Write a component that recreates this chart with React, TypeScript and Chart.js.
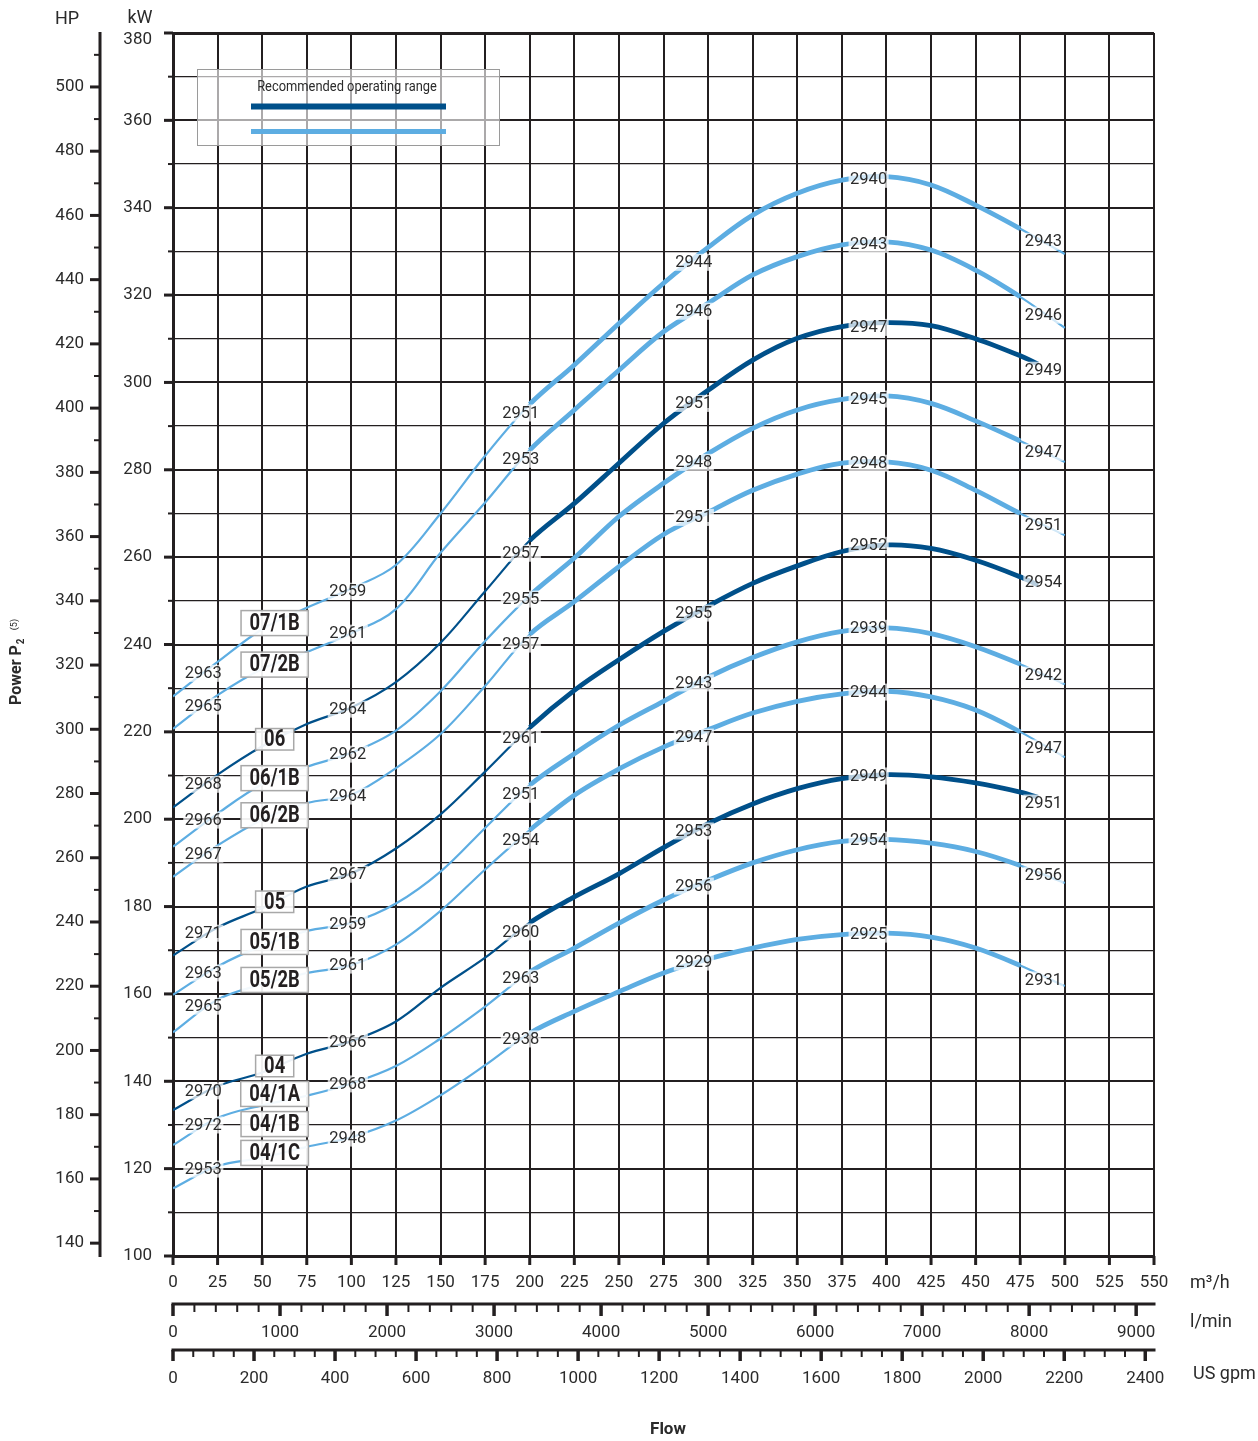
import { useEffect, useRef } from 'react';
import { Chart, registerables } from 'chart.js';

Chart.register(...registerables);

const W = 1258;
const H = 1441;
const DARK = '#00508A';
const LIGHT = '#5DADE2';
const GRID = '#231F20';
const TEXT = '#2B2B2B';
const FONT = 'Roboto, "Liberation Sans", sans-serif';

// flow (m3/h) sampling of the curves
const flowLight = [0, 25, 50, 75, 100, 125, 150, 175, 200, 225, 250, 275, 300, 325, 350, 375, 400, 425, 450, 475, 500];
const flowDark = [0, 25, 50, 75, 100, 125, 150, 175, 200, 225, 250, 275, 300, 325, 350, 375, 400, 425, 450, 475, 485];

// power P2 (kW)
const kw07_1B = [228.1, 236.0, 243.5, 248.4, 252.8, 258.2, 270.0, 283.2, 295.0, 304.0, 313.5, 322.7, 330.9, 338.3, 343.3, 346.3, 347.1, 345.2, 340.6, 335.2, 329.4];
const kw07_2B = [220.7, 228.4, 234.4, 238.3, 242.6, 248.1, 261.0, 272.5, 284.5, 293.7, 302.8, 311.6, 318.1, 324.6, 328.8, 331.5, 332.2, 330.3, 325.7, 319.6, 312.5];
const kw06 = [202.7, 210.2, 216.7, 221.8, 225.6, 231.4, 240.4, 252.2, 263.8, 272.3, 281.5, 290.6, 298.2, 305.1, 310.1, 312.8, 313.7, 313.0, 310.0, 306.1, 304.2];
const kw06_1B = [193.7, 201.3, 208.0, 212.0, 215.2, 220.3, 229.3, 240.8, 251.2, 259.8, 269.3, 276.9, 283.7, 289.5, 293.7, 296.1, 296.9, 295.2, 291.2, 286.6, 281.8];
const kw06_2B = [186.8, 194.0, 199.9, 203.7, 205.6, 211.7, 219.5, 230.5, 242.3, 249.8, 257.8, 265.2, 270.3, 275.3, 279.0, 281.5, 281.8, 279.9, 275.3, 270.0, 265.0];
const kw05 = [168.8, 175.2, 179.6, 184.6, 187.6, 193.3, 201.1, 210.9, 221.0, 229.5, 236.5, 243.0, 248.8, 254.0, 258.0, 261.3, 262.8, 262.0, 259.3, 255.5, 253.6];
const kw05_1B = [159.8, 166.3, 171.0, 174.4, 176.3, 180.7, 188.0, 198.0, 207.8, 215.0, 221.5, 227.0, 232.5, 237.0, 240.6, 243.0, 243.8, 242.5, 239.5, 235.5, 230.9];
const kw05_2B = [151.2, 158.7, 162.2, 164.8, 166.6, 171.3, 179.0, 188.5, 197.5, 205.5, 211.5, 216.5, 220.5, 224.3, 227.0, 228.7, 229.3, 228.0, 225.0, 220.0, 214.2];
const kw04 = [133.4, 138.9, 142.0, 146.3, 149.2, 153.7, 161.4, 168.3, 176.3, 182.2, 187.5, 193.5, 199.0, 203.5, 207.0, 209.3, 210.2, 209.7, 208.3, 206.2, 205.0];
const kw04_1A = [125.4, 131.6, 134.5, 136.7, 139.5, 143.5, 149.8, 157.1, 165.0, 170.5, 176.2, 181.5, 186.0, 190.0, 193.0, 194.9, 195.4, 194.5, 192.6, 189.4, 185.4];
const kw04_1C = [115.5, 120.6, 122.5, 125.0, 127.2, 131.0, 136.8, 143.7, 151.0, 156.0, 160.5, 164.8, 168.0, 170.5, 172.5, 173.6, 173.9, 173.0, 170.5, 166.5, 161.8];

// curve tags (flow positions and read power values)
const tagFlow = [17, 98, 195, 292, 390, 488];
const tags07_1B = ['2963', '2959', '2951', '2944', '2940', '2943'];
const tagKw07_1B = [233.4, 252.2, 293.0, 327.5, 346.5, 332.3];
const tags07_2B = ['2965', '2961', '2953', '2946', '2943', '2946'];
const tagKw07_2B = [225.9, 242.6, 282.4, 316.3, 331.6, 315.4];
const tags06 = ['2968', '2964', '2957', '2951', '2947', '2949'];
const tagKw06 = [208.0, 225.2, 260.9, 295.2, 312.6, 302.8];
const tags06_1B = ['2966', '2962', '2955', '2948', '2945', '2947'];
const tagKw06_1B = [199.8, 214.9, 250.4, 281.7, 296.2, 284.0];
const tags06_2B = ['2967', '2964', '2957', '2951', '2948', '2951'];
const tagKw06_2B = [192.0, 205.3, 240.1, 269.1, 281.5, 267.3];
const tags05 = ['2971', '2967', '2961', '2955', '2952', '2954'];
const tagKw05 = [173.9, 187.4, 218.6, 247.2, 262.7, 254.3];
const tags05_1B = ['2963', '2959', '2951', '2943', '2939', '2942'];
const tagKw05_1B = [164.8, 176.0, 205.7, 231.2, 243.7, 233.0];
const tags05_2B = ['2965', '2961', '2954', '2947', '2944', '2947'];
const tagKw05_2B = [157.2, 166.6, 195.2, 218.8, 229.1, 216.3];
const tags04 = ['2970', '2966', '2960', '2953', '2949', '2951'];
const tagKw04 = [137.8, 149.0, 174.2, 197.3, 209.9, 203.7];
const tags04_1A = ['2972', '2968', '2963', '2956', '2954', '2956'];
const tagKw04_1A = [130.0, 139.4, 163.6, 184.7, 195.2, 187.2];
const tags04_1C = ['2953', '2948', '2938', '2929', '2925', '2931'];
const tagKw04_1C = [119.9, 127.0, 149.7, 167.3, 173.7, 163.2];

// model name boxes
const modelNames = ['07/1B', '07/2B', '06', '06/1B', '06/2B', '05', '05/1B', '05/2B', '04', '04/1A', '04/1B', '04/1C'];
const modelKw = [244.9, 235.4, 218.3, 209.4, 200.9, 181.1, 171.9, 163.2, 143.5, 137.1, 130.2, 123.6];
const modelFlow = 57;

// recommended operating range (flow)
const rangeFrom = 200;
const rangeToLight = 475;
const rangeToDark = 485;

// axes
const flowTicks = [0, 25, 50, 75, 100, 125, 150, 175, 200, 225, 250, 275, 300, 325, 350, 375, 400, 425, 450, 475, 500, 525, 550];
const kwLabels = [100, 120, 140, 160, 180, 200, 220, 240, 260, 280, 300, 320, 340, 360, 380];
const hpLabels = [140, 160, 180, 200, 220, 240, 260, 280, 300, 320, 340, 360, 380, 400, 420, 440, 460, 480, 500];
const lminLabels = [0, 1000, 2000, 3000, 4000, 5000, 6000, 7000, 8000, 9000];
const gpmLabels = [0, 200, 400, 600, 800, 1000, 1200, 1400, 1600, 1800, 2000, 2200, 2400];
const KW_TO_HP = 1.36;
const M3H_TO_LMIN = 1000 / 60;
const M3H_TO_GPM = 4.402868;

const steps = (from: number, to: number, step: number) => {
  const out: number[] = [];
  for (let v = from; v <= to + 1e-9; v += step) out.push(Math.round(v * 1000) / 1000);
  return out;
};
const kwTicks = steps(100, 380, 10);
const hpTicks = steps(140, 510, 10);
const lminTicks = steps(0, 9000, 200);
const gpmTicks = steps(0, 2400, 50);

const curves = [
  { model: '07/1B', flow: flowLight, kw: kw07_1B, dark: false, tags: tags07_1B, tagKw: tagKw07_1B },
  { model: '07/2B', flow: flowLight, kw: kw07_2B, dark: false, tags: tags07_2B, tagKw: tagKw07_2B },
  { model: '06', flow: flowDark, kw: kw06, dark: true, tags: tags06, tagKw: tagKw06 },
  { model: '06/1B', flow: flowLight, kw: kw06_1B, dark: false, tags: tags06_1B, tagKw: tagKw06_1B },
  { model: '06/2B', flow: flowLight, kw: kw06_2B, dark: false, tags: tags06_2B, tagKw: tagKw06_2B },
  { model: '05', flow: flowDark, kw: kw05, dark: true, tags: tags05, tagKw: tagKw05 },
  { model: '05/1B', flow: flowLight, kw: kw05_1B, dark: false, tags: tags05_1B, tagKw: tagKw05_1B },
  { model: '05/2B', flow: flowLight, kw: kw05_2B, dark: false, tags: tags05_2B, tagKw: tagKw05_2B },
  { model: '04', flow: flowDark, kw: kw04, dark: true, tags: tags04, tagKw: tagKw04 },
  { model: '04/1A', flow: flowLight, kw: kw04_1A, dark: false, tags: tags04_1A, tagKw: tagKw04_1A },
  { model: '04/1C', flow: flowLight, kw: kw04_1C, dark: false, tags: tags04_1C, tagKw: tagKw04_1C },
];

const THIN = 2.2;
const THICK = 4.8;

const line = (ctx: CanvasRenderingContext2D, x1: number, y1: number, x2: number, y2: number, w: number, color = GRID) => {
  ctx.beginPath();
  ctx.strokeStyle = color;
  ctx.lineWidth = w;
  ctx.moveTo(x1, y1);
  ctx.lineTo(x2, y2);
  ctx.stroke();
};

const overlay = {
  id: 'overlay',
  afterDatasetsDraw(chart: any) {
    const ctx: CanvasRenderingContext2D = chart.ctx;
    const { x, y } = chart.scales;
    const ca = chart.chartArea;
    ctx.save();

    // curve tags
    ctx.font = `16.5px ${FONT}`;
    ctx.textAlign = 'center';
    ctx.textBaseline = 'middle';
    curves.forEach((c) => {
      c.tags.forEach((t, j) => {
        const px = x.getPixelForValue(tagFlow[j]);
        const py = y.getPixelForValue(c.tagKw[j]);
        const w = ctx.measureText(t).width;
        ctx.fillStyle = 'rgba(255,255,255,0.72)';
        ctx.fillRect(px - w / 2 - 1.5, py - 8.5, w + 3, 17);
        ctx.fillStyle = TEXT;
        ctx.fillText(t, px, py + 0.5);
      });
    });

    // model boxes (condensed bold text)
    const SQ = 0.8;
    ctx.font = `bold 23px ${FONT}`;
    modelNames.forEach((name, k) => {
      const px = x.getPixelForValue(modelFlow);
      const py = y.getPixelForValue(modelKw[k]);
      const w = ctx.measureText(name).width * SQ;
      const bw = w + 17;
      const bh = name.length > 2 ? 25 : 21.5;
      ctx.fillStyle = 'rgba(255,255,255,0.93)';
      ctx.fillRect(px - bw / 2, py - bh / 2, bw, bh);
      ctx.strokeStyle = '#A8A8A8';
      ctx.lineWidth = 1.5;
      ctx.strokeRect(px - bw / 2, py - bh / 2, bw, bh);
      ctx.fillStyle = '#231F20';
      ctx.save();
      ctx.translate(px, py + 1);
      ctx.scale(SQ, 1);
      ctx.fillText(name, 0, 0);
      ctx.restore();
    });

    // legend box
    const lx = ca.left + 24;
    const ly = ca.top + 36;
    ctx.fillStyle = 'rgba(255,255,255,0.62)';
    ctx.fillRect(lx, ly, 302, 76);
    ctx.strokeStyle = '#9A9A9A';
    ctx.lineWidth = 1;
    ctx.strokeRect(lx + 0.5, ly + 0.5, 302, 76);
    ctx.fillStyle = TEXT;
    ctx.font = `14px ${FONT}`;
    ctx.save();
    ctx.translate(lx + 150, ly + 18);
    ctx.scale(0.92, 1);
    ctx.fillText('Recommended operating range', 0, 0);
    ctx.restore();
    line(ctx, lx + 54, ly + 37.5, lx + 249, ly + 37.5, 6, DARK);
    line(ctx, lx + 54, ly + 62.5, lx + 249, ly + 62.5, 5, LIGHT);
    ctx.restore();
  },
  afterDraw(chart: any) {
    const ctx: CanvasRenderingContext2D = chart.ctx;
    const { x, y, hp, lmin, gpm } = chart.scales;
    const ca = chart.chartArea;
    ctx.save();
    ctx.lineCap = 'butt';

    // kW ticks
    kwTicks.forEach((v) => {
      const py = y.getPixelForValue(v);
      const major = v % 20 === 0;
      line(ctx, ca.left - (major ? 9 : 5), py, ca.left, py, major ? 3 : 2);
    });
    // top kW label sits just below its tick
    ctx.fillStyle = TEXT;
    ctx.font = `17px ${FONT}`;
    ctx.textAlign = 'right';
    ctx.textBaseline = 'middle';
    ctx.fillText(String(y.max), ca.left - 21, y.getPixelForValue(y.max) + 7);

    // m3/h ticks
    flowTicks.forEach((v) => {
      const px = x.getPixelForValue(v);
      line(ctx, px, ca.bottom, px, ca.bottom + 9, 3);
    });
    // HP axis
    const hx = hp.right;
    line(ctx, hx, ca.top - 1, hx, ca.bottom + 1, 3);
    hpTicks.forEach((v) => {
      const py = hp.getPixelForValue(v);
      const major = v % 20 === 0;
      line(ctx, hx - (major ? 10 : 6), py, hx, py, major ? 3 : 2);
    });
    // l/min axis
    const ly = lmin.top;
    line(ctx, ca.left - 1.5, ly, ca.right + 1.5, ly, 3);
    lminTicks.forEach((v) => {
      const px = lmin.getPixelForValue(v);
      const major = v % 1000 === 0;
      line(ctx, px, ly, px, ly + (major ? 12 : 8), major ? 3.5 : 2);
    });
    // US gpm axis
    const gy = gpm.top;
    line(ctx, ca.left - 1.5, gy, ca.right + 1.5, gy, 3);
    gpmTicks.forEach((v) => {
      const px = gpm.getPixelForValue(v);
      const major = v % 200 === 0;
      line(ctx, px, gy, px, gy + (major ? 11 : 7), major ? 3.5 : 2);
    });

    // headers and units
    ctx.fillStyle = TEXT;
    ctx.textBaseline = 'middle';
    ctx.textAlign = 'center';
    ctx.font = `18px ${FONT}`;
    ctx.fillText('HP', 67, 19);
    ctx.fillText('kW', 140, 18);
    ctx.textAlign = 'left';
    ctx.fillText('m³/h', 1190, 1283);
    ctx.fillText('l/min', 1190, 1322);
    ctx.fillText('US gpm', 1193, 1374);
    ctx.textAlign = 'center';
    ctx.font = `bold 17px ${FONT}`;
    ctx.fillText('Flow', 668, 1430);

    // vertical title
    ctx.save();
    ctx.translate(17, 705);
    ctx.rotate(-Math.PI / 2);
    ctx.textAlign = 'left';
    ctx.font = `bold 16px ${FONT}`;
    ctx.fillText('Power P', 0, 0);
    const tw = ctx.measureText('Power P').width;
    ctx.font = `bold 10px ${FONT}`;
    ctx.fillText('2', tw + 1, 4);
    ctx.font = `9px ${FONT}`;
    ctx.fillText('(5)', tw + 15, -2);
    ctx.restore();

    ctx.restore();
  },
};

export default function App() {
  const ref = useRef<HTMLCanvasElement>(null);
  useEffect(() => {
    const canvas = ref.current;
    if (!canvas) return;
    const datasets = curves.map((c) => {
      const end = c.dark ? rangeToDark : rangeToLight;
      return {
        label: c.model,
        data: c.flow.map((q, i) => ({ x: q, y: c.kw[i] })),
        borderColor: c.dark ? DARK : LIGHT,
        borderWidth: THIN,
        pointRadius: 0,
        fill: false,
        tension: 0.35,
        segment: {
          borderWidth: (s: any) => (s.p0.parsed.x >= rangeFrom && s.p1.parsed.x <= end ? THICK : THIN),
        },
        xAxisID: 'x',
        yAxisID: 'y',
      };
    });
    const tickFont = { family: FONT, size: 17 };
    const chart = new Chart(canvas, {
      type: 'line',
      data: { datasets },
      options: {
        responsive: false,
        animation: false,
        devicePixelRatio: 1,
        layout: { autoPadding: false, padding: { left: 0, top: 33, right: 104, bottom: 0 } },
        plugins: { legend: { display: false }, tooltip: { enabled: false }, title: { display: false } },
        scales: {
          x: {
            type: 'linear', axis: 'x', position: 'bottom', weight: 0, min: 0, max: 550,
            afterBuildTicks: (s: any) => { s.ticks = flowTicks.map((v) => ({ value: v })); },
            afterFit: (s: any) => { s.height = 48; },
            ticks: { autoSkip: false, maxRotation: 0, font: tickFont, color: TEXT, padding: 17 },
            grid: { color: GRID, lineWidth: 2, drawTicks: false },
            border: { display: true, color: GRID, width: 3 },
          },
          lmin: {
            type: 'linear', axis: 'x', position: 'bottom', weight: 1, min: 0, max: 550 * M3H_TO_LMIN,
            afterBuildTicks: (s: any) => { s.ticks = lminTicks.map((v) => ({ value: v })); },
            afterFit: (s: any) => { s.height = 46; },
            ticks: {
              autoSkip: false, maxRotation: 0, font: tickFont, color: TEXT, padding: 18.5,
              callback: (v: any) => (lminLabels.includes(Number(v)) ? String(v) : ''),
            },
            grid: { display: false, drawTicks: false },
            border: { display: false },
          },
          gpm: {
            type: 'linear', axis: 'x', position: 'bottom', weight: 2, min: 0, max: 550 * M3H_TO_GPM,
            afterBuildTicks: (s: any) => { s.ticks = gpmTicks.map((v) => ({ value: v })); },
            afterFit: (s: any) => { s.height = 91; },
            ticks: {
              autoSkip: false, maxRotation: 0, font: tickFont, color: TEXT, padding: 19,
              callback: (v: any) => (gpmLabels.includes(Number(v)) ? String(v) : ''),
            },
            grid: { display: false, drawTicks: false },
            border: { display: false },
          },
          y: {
            type: 'linear', axis: 'y', position: 'left', weight: 0, min: 100, max: 380,
            afterBuildTicks: (s: any) => { s.ticks = kwTicks.map((v) => ({ value: v })); },
            afterFit: (s: any) => { s.width = 73; },
            ticks: {
              autoSkip: false, font: tickFont, color: TEXT, padding: 21,
              callback: (v: any) => (kwLabels.includes(Number(v)) && Number(v) !== 380 ? String(v) : ''),
            },
            grid: {
              color: GRID, drawTicks: false,
              lineWidth: (c: any) => {
                const v = c.tick ? c.tick.value : 0;
                if (v === 380) return 3;
                return v % 20 === 0 ? 2 : 1.3;
              },
            },
            border: { display: true, color: GRID, width: 3 },
          },
          hp: {
            type: 'linear', axis: 'y', position: 'left', weight: 1, min: 100 * KW_TO_HP, max: 380 * KW_TO_HP,
            afterBuildTicks: (s: any) => { s.ticks = hpTicks.map((v) => ({ value: v })); },
            afterFit: (s: any) => { s.width = 100; },
            ticks: {
              autoSkip: false, font: tickFont, color: TEXT, padding: 16,
              callback: (v: any) => (hpLabels.includes(Number(v)) ? String(v) : ''),
            },
            grid: { display: false, drawTicks: false },
            border: { display: false },
          },
        },
      } as any,
      plugins: [overlay],
    });
    return () => chart.destroy();
  }, []);
  return (
    <div style={{ position: 'absolute', left: 0, top: 0, width: W, height: H, background: '#fff' }}>
      <canvas ref={ref} width={W} height={H} style={{ display: 'block', width: W, height: H }} />
    </div>
  );
}
